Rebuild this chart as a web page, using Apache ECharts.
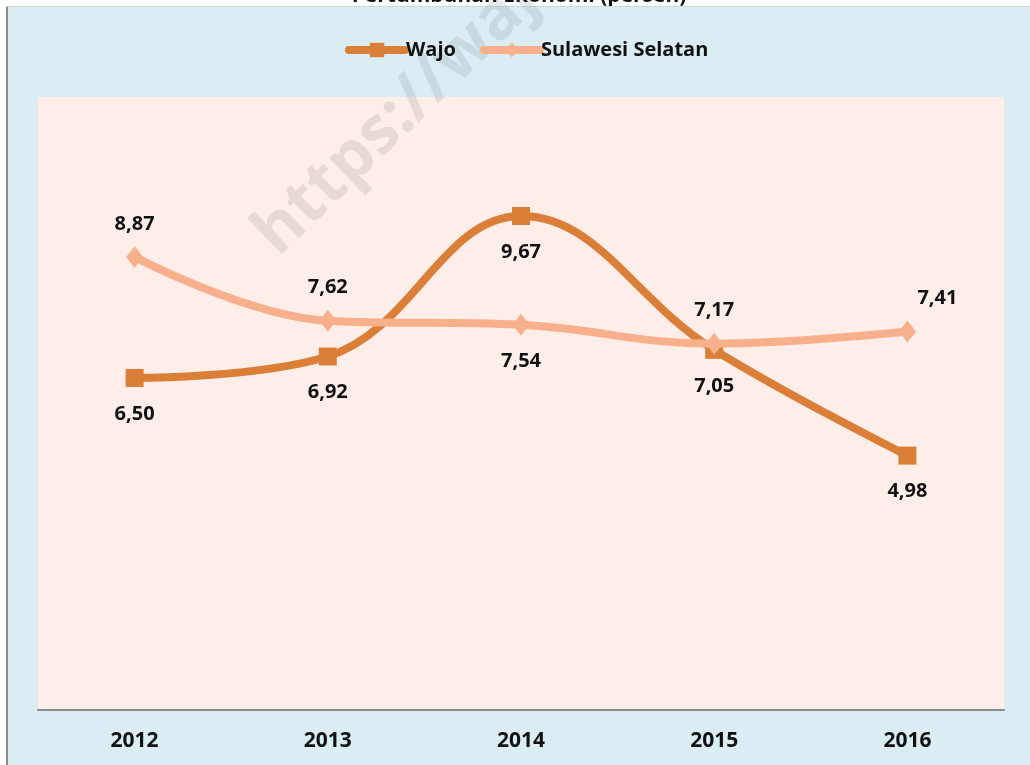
<!DOCTYPE html>
<html>
<head>
<meta charset="utf-8">
<script src="https://cdn.jsdelivr.net/npm/echarts@6/dist/echarts.min.js"></script>
<style>
html,body{margin:0;padding:0;background:#fff;}
#c{width:1030px;height:765px;}
</style>
</head>
<body>
<div id="c"></div>
<script>
const categories = ['2012', '2013', '2014', '2015', '2016'];
const wajo = [6.50, 6.92, 9.67, 7.05, 4.98];
const sulsel = [8.87, 7.62, 7.54, 7.17, 7.41];
const seriesNames = ['Wajo', 'Sulawesi Selatan'];
const titleText = 'Pertumbuhan Ekonomi (persen)';
const watermark = 'https://wajokab.bps.go.id';

const FONT = '"Open Sans", "Noto Sans", sans-serif';
const fmt = v => v.toFixed(2).replace('.', ',');

const chart = echarts.init(document.getElementById('c'));

const labelBase = {
  show: true,
  fontFamily: FONT,
  fontWeight: 'bold',
  fontSize: 20,
  color: '#111',
  formatter: p => fmt(p.value)
};

const sulselData = sulsel.map((v, i) => {
  const d = { value: v };
  if (i === 2) d.label = { position: 'bottom', distance: 15 };
  if (i === 4) d.label = { offset: [30, 0] };
  return d;
});

chart.setOption({
  backgroundColor: '#ffffff',
  animation: false,
  graphic: [
    { type: 'text', z: -11, x: 519, y: 7, style: { text: titleText, fill: '#111', font: 'bold 21px ' + FONT, textAlign: 'center', textVerticalAlign: 'bottom' }, silent: true },
    { type: 'rect', z: -10, shape: { x: 8, y: 7, width: 1022, height: 758 }, style: { fill: '#DAEDF3' }, silent: true },
    { type: 'rect', z: -9, shape: { x: 6, y: 7, width: 2, height: 758 }, style: { fill: '#8c8c8c' }, silent: true },
    { type: 'rect', z: -9, shape: { x: 6, y: 6, width: 1024, height: 1 }, style: { fill: '#d4d4d4' }, silent: true },
    { type: 'text', z: 1, x: 288, y: 268, rotation: 44 * Math.PI / 180,
      style: { text: watermark, fill: 'rgba(110,120,125,0.17)', font: 'bold 66px ' + FONT, textAlign: 'left', textVerticalAlign: 'bottom' }, silent: true }
  ],
  legend: {
    top: 35,
    left: 340,
    itemWidth: 56,
    itemHeight: 18,
    itemGap: 24,
    lineStyle: { width: 8, cap: 'round' },
    textStyle: { fontFamily: FONT, fontWeight: 'bold', fontSize: 20, color: '#111', padding: [0, 0, 0, -4] },
    data: seriesNames
  },
  grid: {
    left: 38, right: 26, top: 97, bottom: 55,
    show: true, backgroundColor: '#FDEEE9', borderWidth: 0
  },
  xAxis: {
    type: 'category',
    data: categories,
    boundaryGap: true,
    axisLine: { lineStyle: { color: '#8a8a8a', width: 2 } },
    axisTick: { show: false },
    axisLabel: { margin: 21, fontFamily: FONT, fontWeight: 'bold', fontSize: 21, color: '#111' }
  },
  yAxis: {
    type: 'value', min: 0, max: 12, interval: 2,
    show: false, splitLine: { show: false }
  },
  series: [
    {
      name: seriesNames[0],
      type: 'line',
      data: wajo,
      smooth: 0.4,
      z: 2,
      symbol: 'rect',
      symbolSize: 18,
      lineStyle: { color: '#DB7F38', width: 8, cap: 'round' },
      itemStyle: { color: '#DB7F38' },
      label: Object.assign({}, labelBase, { position: 'bottom', distance: 17 })
    },
    {
      name: seriesNames[1],
      type: 'line',
      data: sulselData,
      smooth: 0.4,
      z: 3,
      symbol: 'diamond',
      symbolSize: [17, 22],
      lineStyle: { color: '#F7B08B', width: 8, cap: 'round' },
      itemStyle: { color: '#F7B08B' },
      label: Object.assign({}, labelBase, { position: 'top', distance: 12 })
    }
  ]
});
</script>
</body>
</html>
